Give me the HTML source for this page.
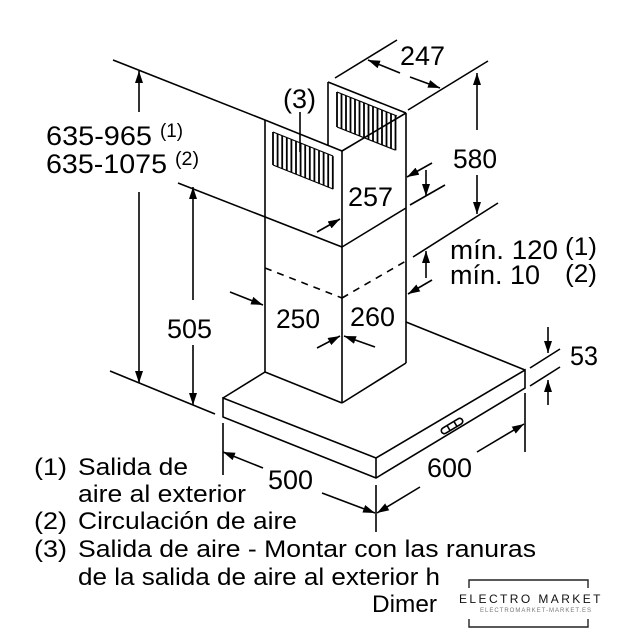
<!DOCTYPE html>
<html><head><meta charset="utf-8"><style>html,body{margin:0;padding:0;background:#fff}svg{display:block}</style></head><body>
<svg width="640" height="640" viewBox="0 0 640 640" xmlns="http://www.w3.org/2000/svg" font-family="'Liberation Sans', Arial, sans-serif">
<defs>
<marker id="a" viewBox="0 0 12 8" refX="12" refY="4" markerWidth="12" markerHeight="8" markerUnits="userSpaceOnUse" orient="auto"><path d="M0,0 L12,4 L0,8 Z" fill="#000"/></marker>
</defs>
<g stroke="#000" stroke-width="1.6" fill="none" stroke-linecap="butt">
<line x1="113" y1="60" x2="265" y2="120"/>
<line x1="265" y1="120" x2="342" y2="151"/>
<line x1="342" y1="151" x2="406" y2="113"/>
<line x1="328" y1="82" x2="406" y2="113"/>
<line x1="328" y1="82" x2="328" y2="145"/>
<line x1="265" y1="120" x2="265" y2="372"/>
<line x1="342" y1="151" x2="342" y2="403"/>
<line x1="406" y1="113" x2="406" y2="363"/>
<line x1="178" y1="183" x2="342" y2="247"/>
<line x1="342" y1="247" x2="406" y2="208"/>
<line x1="265" y1="372" x2="342" y2="403"/>
<line x1="342" y1="403" x2="406" y2="363"/>
<line x1="265" y1="268" x2="342" y2="298" stroke-dasharray="7,6"/>
<line x1="342" y1="298" x2="406" y2="261" stroke-dasharray="7,6"/>
<line x1="406" y1="322" x2="525" y2="370"/>
<line x1="223" y1="398" x2="265" y2="372"/>
<polygon points="223,398 376,458 525,370 525,388 376,478 223,417"/>
<line x1="376" y1="458" x2="376" y2="478"/>
<g transform="translate(452,426) rotate(-31)"><rect x="-12" y="-3" width="24" height="6" rx="3"/><line x1="-4" y1="-3" x2="-4" y2="3"/><line x1="4" y1="-3" x2="4" y2="3"/></g>
<line x1="335" y1="78" x2="397" y2="40"/>
<line x1="408" y1="110" x2="488" y2="61"/>
<line x1="400" y1="73" x2="368" y2="60" marker-end="url(#a)"/>
<line x1="410" y1="77" x2="440" y2="88" marker-end="url(#a)"/>
<line x1="139" y1="112" x2="139" y2="71" marker-end="url(#a)"/>
<line x1="139" y1="192" x2="139" y2="383" marker-end="url(#a)"/>
<line x1="193" y1="300" x2="193" y2="187" marker-end="url(#a)"/>
<line x1="193" y1="345" x2="193" y2="405" marker-end="url(#a)"/>
<line x1="110" y1="371" x2="215" y2="414"/>
<line x1="410" y1="205" x2="445" y2="185"/>
<line x1="432" y1="163" x2="407" y2="177" marker-end="url(#a)"/>
<line x1="426" y1="170" x2="426" y2="196" marker-end="url(#a)"/>
<line x1="317" y1="232" x2="340" y2="219" marker-end="url(#a)"/>
<line x1="477" y1="130" x2="477" y2="73" marker-end="url(#a)"/>
<line x1="477" y1="175" x2="477" y2="214" marker-end="url(#a)"/>
<line x1="413" y1="257" x2="498" y2="203"/>
<line x1="426" y1="278" x2="426" y2="251" marker-end="url(#a)"/>
<line x1="432" y1="280" x2="408" y2="294" marker-end="url(#a)"/>
<line x1="230" y1="292" x2="263" y2="305" marker-end="url(#a)"/>
<line x1="317" y1="348" x2="340" y2="336" marker-end="url(#a)"/>
<line x1="375" y1="347" x2="344" y2="336" marker-end="url(#a)"/>
<line x1="530" y1="368" x2="560" y2="349"/>
<line x1="530" y1="386" x2="560" y2="367"/>
<line x1="548" y1="327" x2="548" y2="353" marker-end="url(#a)"/>
<line x1="548" y1="405" x2="548" y2="380" marker-end="url(#a)"/>
<line x1="223" y1="423" x2="223" y2="475"/>
<line x1="376" y1="485" x2="376" y2="532"/>
<line x1="525" y1="393" x2="525" y2="452"/>
<line x1="263" y1="468" x2="223" y2="452" marker-end="url(#a)"/>
<line x1="322" y1="493" x2="375" y2="513" marker-end="url(#a)"/>
<line x1="420" y1="487" x2="377" y2="513" marker-end="url(#a)"/>
<line x1="477" y1="452" x2="524" y2="424" marker-end="url(#a)"/>
<line x1="300" y1="112" x2="300" y2="152"/>
</g>
<g stroke="#000" stroke-width="1.8">
<path d="M273,132 V165 M277.6,134 V167 M282.2,135.8 V168.8 M286.8,137.7 V170.7 M291.4,139.5 V172.5 M296,141.4 V174.4 M300.6,143.2 V176.2 M305.2,145.1 V178.1 M309.8,146.9 V179.9 M314.4,148.8 V181.8 M319,150.6 V183.6 M323.6,152.4 V185.4 M328.2,154.3 V187.3 M332.8,156.1 V189.1"/>
<path d="M337,92 V127 M341.5,93.8 V128.8 M346,95.6 V130.6 M350.5,97.4 V132.4 M355,99.2 V134.2 M359.5,101 V136 M364,102.8 V137.8 M368.5,104.6 V139.6 M373,106.4 V141.4 M377.5,108.2 V143.2 M382,110 V145 M386.5,111.8 V146.8 M391,113.6 V148.6 M395.5,115.4 V150.4"/>
</g>
<g stroke="#000" stroke-width="1.2">
<path d="M273,132 L333,156 M273,165 L333,189"/>
<path d="M337,92 L397,116 M337,127 L395,150"/>
</g>
<g fill="#000" font-size="27">
<text x="400" y="65" textLength="45" lengthAdjust="spacingAndGlyphs">247</text>
<text x="283" y="108" textLength="33" lengthAdjust="spacingAndGlyphs">(3)</text>
<text x="453" y="168" textLength="44" lengthAdjust="spacingAndGlyphs">580</text>
<text x="348" y="206" textLength="45" lengthAdjust="spacingAndGlyphs">257</text>
<text x="46" y="145" textLength="106" lengthAdjust="spacingAndGlyphs">635-965</text>
<text x="46" y="173" textLength="121" lengthAdjust="spacingAndGlyphs">635-1075</text>
<text x="160" y="137" font-size="19" textLength="23" lengthAdjust="spacingAndGlyphs">(1)</text>
<text x="175" y="165" font-size="19" textLength="24" lengthAdjust="spacingAndGlyphs">(2)</text>
<text x="450" y="259" textLength="108" lengthAdjust="spacingAndGlyphs">mín. 120</text>
<text x="565" y="255" font-size="25" textLength="32" lengthAdjust="spacingAndGlyphs">(1)</text>
<text x="450" y="284" textLength="90" lengthAdjust="spacingAndGlyphs">mín. 10</text>
<text x="565" y="282" font-size="25" textLength="32" lengthAdjust="spacingAndGlyphs">(2)</text>
<text x="276" y="328" textLength="44" lengthAdjust="spacingAndGlyphs">250</text>
<text x="350" y="326" textLength="45" lengthAdjust="spacingAndGlyphs">260</text>
<text x="167" y="338" textLength="45" lengthAdjust="spacingAndGlyphs">505</text>
<text x="570" y="365" textLength="28" lengthAdjust="spacingAndGlyphs">53</text>
<text x="268" y="489" textLength="45" lengthAdjust="spacingAndGlyphs">500</text>
<text x="427" y="477" textLength="45" lengthAdjust="spacingAndGlyphs">600</text>
</g>
<g fill="#000" font-size="24">
<text x="34" y="475" textLength="33" lengthAdjust="spacingAndGlyphs">(1)</text><text x="78" y="475" textLength="110" lengthAdjust="spacingAndGlyphs">Salida de</text>
<text x="78" y="502" textLength="168" lengthAdjust="spacingAndGlyphs">aire al exterior</text>
<text x="34" y="529" textLength="33" lengthAdjust="spacingAndGlyphs">(2)</text><text x="78" y="529" textLength="219" lengthAdjust="spacingAndGlyphs">Circulación de aire</text>
<text x="34" y="557" textLength="33" lengthAdjust="spacingAndGlyphs">(3)</text><text x="78" y="557" textLength="458" lengthAdjust="spacingAndGlyphs">Salida de aire - Montar con las ranuras</text>
<text x="78" y="585" textLength="362" lengthAdjust="spacingAndGlyphs">de la salida de aire al exterior h</text>
<text x="372" y="612" textLength="65" lengthAdjust="spacingAndGlyphs">Dimer</text>
</g>
<rect x="452" y="568" width="160" height="68" fill="#fff"/>
<g stroke="#222" stroke-width="1.4" fill="none">
<path d="M469,588 V580 H588 V588"/>
<path d="M469,619 V627 H588 V619"/>
</g>
<text x="459" y="603" font-size="12" letter-spacing="1.5" textLength="143" fill="#111">ELECTRO MARKET</text>
<text x="480" y="612" font-size="6" letter-spacing="1" fill="#777">ELECTROMARKET-MARKET.ES</text>
</svg>
</body></html>
